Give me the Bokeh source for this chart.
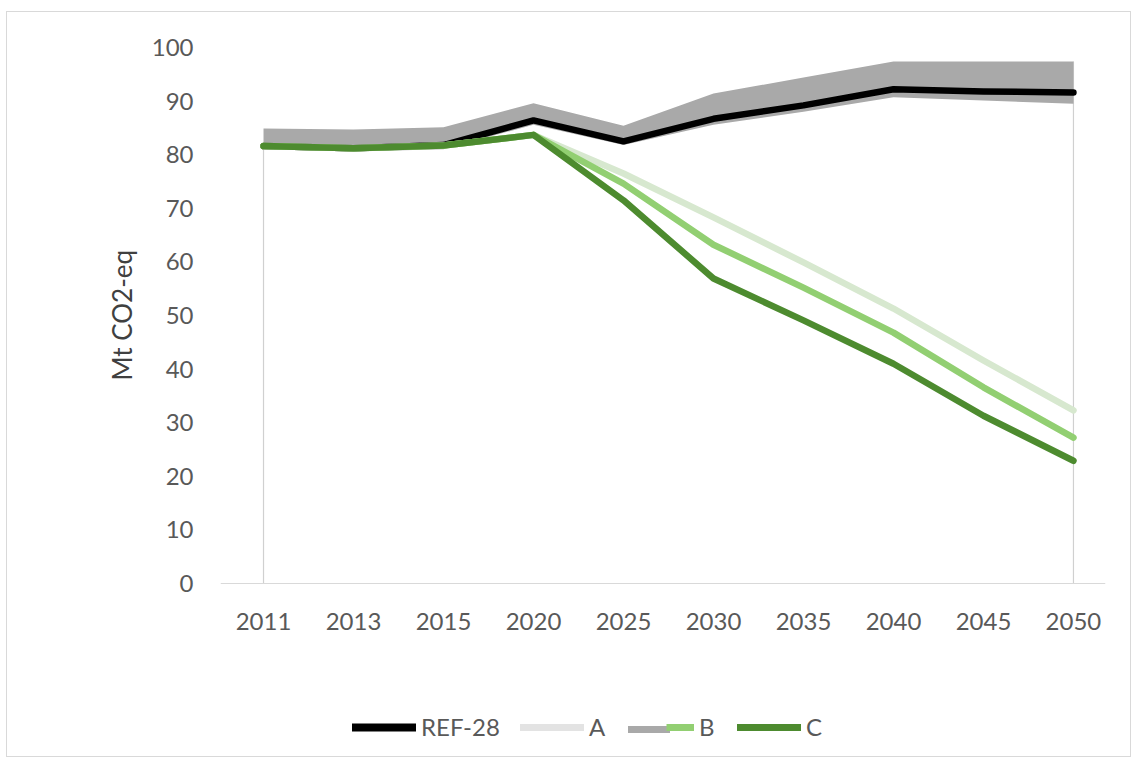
from bokeh.plotting import figure
from bokeh.models import Range1d, FixedTicker, Legend, LegendItem, Title
from bokeh.embed import file_html
from bokeh.resources import INLINE

# ---- data ----
years = ["2011", "2013", "2015", "2020", "2025", "2030", "2035", "2040", "2045", "2050"]
ref28 = [81.6, 81.2, 81.8, 86.4, 82.5, 86.7, 89.2, 92.2, 91.8, 91.6]
band_low = [81.0, 80.6, 81.0, 85.6, 81.8, 85.6, 88.0, 90.7, 90.1, 89.5]
band_high = [84.9, 84.7, 85.1, 89.6, 85.4, 91.4, 94.4, 97.4, 97.4, 97.4]
scen_a = [81.6, 81.2, 81.7, 83.7, 76.5, 68.3, 59.9, 51.3, 41.6, 32.3]
scen_b = [81.6, 81.2, 81.7, 83.7, 74.6, 63.2, 55.2, 46.8, 36.6, 27.2]
scen_c = [81.6, 81.2, 81.7, 83.7, 71.5, 56.9, 49.1, 41.0, 31.3, 22.9]
y_ticks = [0, 10, 20, 30, 40, 50, 60, 70, 80, 90, 100]

xs = list(range(len(years)))
NAN = float("nan")

FONT = "Lato"
TXT = "#595959"

p = figure(width=1125, height=746, output_backend="svg", toolbar_location=None,
           x_range=Range1d(-0.478, 9.356), y_range=Range1d(-32.65, 100),
           min_border_left=213, min_border_right=27, min_border_top=35,
           min_border_bottom=0)
p.outline_line_color = None
p.xgrid.grid_line_color = None
p.ygrid.grid_line_color = None
p.background_fill_color = "white"
p.border_fill_color = "white"
p.styles = {"border": "1px solid #d9d9d9", "margin-left": "6px", "margin-top": "11px"}

# x axis (drawn at y = 0 inside the frame)
p.xaxis.fixed_location = 0
p.xaxis.ticker = FixedTicker(ticks=xs)
p.xaxis.major_label_overrides = {i: y for i, y in enumerate(years)}
p.xaxis.axis_line_color = "#d9d9d9"
p.xaxis.major_tick_line_color = None
p.xaxis.minor_tick_line_color = None
p.xaxis.major_label_standoff = 24
p.xaxis.major_label_text_font = FONT
p.xaxis.major_label_text_font_size = "24px"
p.xaxis.major_label_text_color = TXT

# y axis
p.yaxis.ticker = FixedTicker(ticks=y_ticks)
p.yaxis.axis_line_color = None
p.yaxis.major_tick_line_color = None
p.yaxis.minor_tick_line_color = None
p.yaxis.major_label_standoff = 21
p.yaxis.major_label_text_font = FONT
p.yaxis.major_label_text_font_size = "24px"
p.yaxis.major_label_text_color = TXT

ytitle = Title(text="Mt CO2-eq", align="left", offset=378, standoff=22,
               text_font=FONT, text_font_style="normal", text_font_size="26px",
               text_color="#404040")
p.add_layout(ytitle, "left")

# vertical drop lines at first and last category
p.segment(x0=[xs[0], xs[-1]], y0=[0, 0], x1=[xs[0], xs[-1]],
          y1=[scen_c[0], band_high[-1]], line_color="#d0d0d0", line_width=1.2)

# grey band
p.varea(x=xs, y1=band_low, y2=band_high, fill_color="#a9a9a9", fill_alpha=1.0)

kw = dict(line_width=6.5, line_cap="round", line_join="round")
r_ref = p.line(xs, ref28, line_color="#000000", **kw)
r_a = p.line(xs, scen_a, line_color="#d7e8cf", **kw)
r_b = p.line(xs, scen_b, line_color="#92cf72", **kw)
r_c = p.line(xs, scen_c, line_color="#4d8b2f", **kw)

# legend-only glyphs (no visible data)
dummy = dict(x=[0, 1], y=[NAN, NAN])
r_ref_leg = p.line(line_color="#000000", line_width=8, line_cap="round", **dummy)
r_a_leg = p.line(line_color="#e3e3e3", line_width=7, line_cap="round", **dummy)
r_gray = p.line(line_color="#a9a9a9", line_width=7, line_cap="round", **dummy)
r_b_leg = p.line(line_color="#92cf72", line_width=7, line_cap="butt", **dummy)
r_c_leg = p.line(line_color="#4d8b2f", line_width=7, line_cap="round", **dummy)


def make_legend(items, x, gw, spacing=16):
    lg = Legend(items=items, location=(x, 17), orientation="horizontal",
                glyph_width=gw, glyph_height=24, label_height=24,
                label_standoff=5, spacing=spacing, padding=0, margin=0,
                border_line_color=None, background_fill_alpha=0,
                label_text_font=FONT, label_text_font_size="24px",
                label_text_color=TXT)
    p.add_layout(lg, "center")
    return lg


make_legend([LegendItem(label="REF-28", renderers=[r_ref_leg]),
             LegendItem(label="A", renderers=[r_a_leg])], 132, 64, spacing=20)
make_legend([LegendItem(label=" ", renderers=[r_gray])], 408, 42)
make_legend([LegendItem(label="B", renderers=[r_b_leg])], 446, 28)
make_legend([LegendItem(label="C", renderers=[r_c_leg])], 517, 64)

open("out.html", "w").write(file_html(p, INLINE))
